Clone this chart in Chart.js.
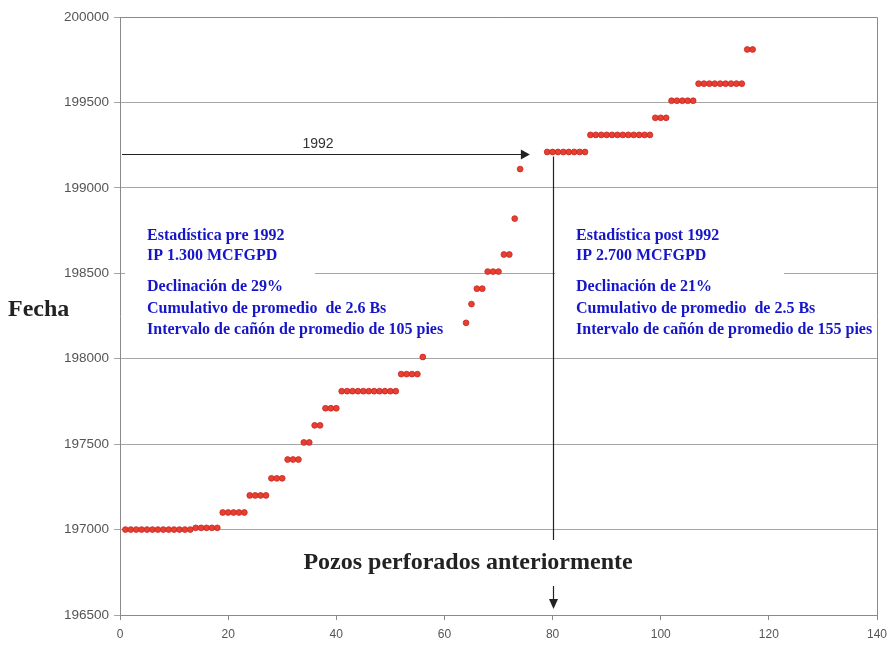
<!DOCTYPE html>
<html>
<head>
<meta charset="utf-8">
<title>Fecha vs pozos</title>
<script src="https://cdn.jsdelivr.net/npm/chart.js@4/dist/chart.umd.min.js"></script>
<style>
  html, body { margin: 0; background: #fff; }
  #wrap { width: 888px; height: 647px; }
</style>
</head>
<body>
<div id="wrap"><canvas id="chart" width="888" height="647"></canvas></div>
<script>
// pozos (numero de pozo) y fecha de perforacion
const pozos = [
  1, 2, 3, 4, 5, 6, 7, 8, 9, 10, 11, 12, 13, 14, 15, 16, 17, 18,
  19, 20, 21, 22, 23,
  24, 25, 26, 27,
  28, 29, 30,
  31, 32, 33,
  34, 35,
  36, 37,
  38, 39, 40,
  41, 42, 43, 44, 45, 46, 47, 48, 49, 50, 51,
  52, 53, 54, 55,
  56,
  64, 65, 66, 67, 68, 69, 70, 71, 72, 73, 74,
  79, 80, 81, 82, 83, 84, 85, 86,
  87, 88, 89, 90, 91, 92, 93, 94, 95, 96, 97, 98,
  99, 100, 101,
  102, 103, 104, 105, 106,
  107, 108, 109, 110, 111, 112, 113, 114, 115,
  116, 117
];
const fecha = [
  197000, 197000, 197000, 197000, 197000, 197000, 197000, 197000, 197000, 197000, 197000, 197000, 197000,
  197010, 197010, 197010, 197010, 197010,
  197100, 197100, 197100, 197100, 197100,
  197200, 197200, 197200, 197200,
  197300, 197300, 197300,
  197410, 197410, 197410,
  197510, 197510,
  197610, 197610,
  197710, 197710, 197710,
  197810, 197810, 197810, 197810, 197810, 197810, 197810, 197810, 197810, 197810, 197810,
  197910, 197910, 197910, 197910,
  198010,
  198210, 198320, 198410, 198410, 198510, 198510, 198510, 198610, 198610, 198820, 199110,
  199210, 199210, 199210, 199210, 199210, 199210, 199210, 199210,
  199310, 199310, 199310, 199310, 199310, 199310, 199310, 199310, 199310, 199310, 199310, 199310,
  199410, 199410, 199410,
  199510, 199510, 199510, 199510, 199510,
  199610, 199610, 199610, 199610, 199610, 199610, 199610, 199610, 199610,
  199810, 199810
];
const preLines = ["Estadística pre 1992", "IP 1.300 MCFGPD", "Declinación de 29%",
  "Cumulativo de promedio  de 2.6 Bs", "Intervalo de cañón de promedio de 105 pies"];
const postLines = ["Estadística post 1992", "IP 2.700 MCFGPD", "Declinación de 21%",
  "Cumulativo de promedio  de 2.5 Bs", "Intervalo de cañón de promedio de 155 pies"];
const corte = { pozo: 80, fecha: 199200, etiqueta: "1992" };

const SERIF = "'Liberation Serif', 'DejaVu Serif', serif";
const SANS = "'Liberation Sans', Arial, sans-serif";
const BLUE = "#1616c8";

function arrowHead(ctx, x, y, dir) {
  // dir: "right" | "down"
  ctx.beginPath();
  if (dir === "right") { ctx.moveTo(x, y); ctx.lineTo(x - 9, y - 5); ctx.lineTo(x - 9, y + 5); }
  else { ctx.moveTo(x, y); ctx.lineTo(x - 4.5, y - 10); ctx.lineTo(x + 4.5, y - 10); }
  ctx.closePath();
  ctx.fill();
}

const overlay = {
  id: "overlay",
  beforeDatasetsDraw(chart) {
    const { ctx, chartArea: a, scales: { x, y } } = chart;
    ctx.save();
    // white boxes behind the statistics
    ctx.fillStyle = "#fff";
    ctx.fillRect(125, 220, 190, 54);
    ctx.fillRect(125, 274, 342, 76);
    ctx.fillRect(555, 220, 229, 54);
    ctx.fillRect(555, 274, 318, 76);

    // plot frame (top + right)
    ctx.strokeStyle = "#8a8a8a"; ctx.lineWidth = 1;
    ctx.beginPath();
    ctx.moveTo(a.left, a.top + 0.5); ctx.lineTo(a.right + 0.5, a.top + 0.5); ctx.lineTo(a.right + 0.5, a.bottom);
    ctx.stroke();

    // 1992 arrow
    const yc = Math.round(y.getPixelForValue(corte.fecha)) + 0.5;
    const xc = Math.round(x.getPixelForValue(corte.pozo)) + 0.5;
    ctx.strokeStyle = "#222"; ctx.fillStyle = "#222"; ctx.lineWidth = 1.2;
    ctx.beginPath(); ctx.moveTo(a.left + 2, yc); ctx.lineTo(x.getPixelForValue(75.3), yc); ctx.stroke();
    arrowHead(ctx, x.getPixelForValue(75.8), yc, "right");
    ctx.font = "14px " + SANS; ctx.textAlign = "center"; ctx.textBaseline = "alphabetic";
    ctx.fillStyle = "#333";
    ctx.fillText(corte.etiqueta, 318, 148);

    // vertical separator at pozo 80
    ctx.fillStyle = "#222";
    ctx.beginPath(); ctx.moveTo(xc, yc + 2); ctx.lineTo(xc, 600); ctx.stroke();
    arrowHead(ctx, xc, 609, "down");

    // x title with white background
    ctx.fillStyle = "#fff";
    ctx.fillRect(296, 540, 346, 46);
    ctx.fillStyle = "#222";
    ctx.font = "bold 24px " + SERIF; ctx.textBaseline = "middle";
    ctx.fillText("Pozos perforados anteriormente", 468, 563);
    ctx.restore();
  },
  afterDatasetsDraw(chart) {
    const { ctx } = chart;
    ctx.save();
    ctx.font = "bold 16px " + SERIF; ctx.fillStyle = BLUE;
    ctx.textAlign = "left"; ctx.textBaseline = "middle";
    const ys = [236, 256, 287, 309, 330];
    preLines.forEach((t, i) => ctx.fillText(t, 147, ys[i]));
    postLines.forEach((t, i) => ctx.fillText(t, 576, ys[i]));
    ctx.fillStyle = "#222"; ctx.font = "bold 24px " + SERIF;
    ctx.fillText("Fecha", 8, 310);
    ctx.restore();
  }
};

new Chart(document.getElementById("chart"), {
  type: "scatter",
  data: {
    datasets: [{
      data: pozos.map((p, i) => ({ x: p, y: fecha[i] })),
      backgroundColor: "#e8402c", borderColor: "#c8232a", borderWidth: 0.8,
      pointRadius: 2.9, pointHoverRadius: 2.9
    }]
  },
  options: {
    responsive: false, animation: false,
    layout: { padding: { top: 17, right: 0, left: 0, bottom: 0 } },
    plugins: { legend: { display: false }, tooltip: { enabled: false } },
    scales: {
      x: {
        type: "linear", min: 0, max: 140,
        afterFit: (s) => { s.height = 32; s.paddingRight = 11; },
        grid: { display: true, drawOnChartArea: false, tickLength: 5, color: "#8a8a8a" },
        border: { color: "#8a8a8a" },
        ticks: { stepSize: 20, padding: 7, color: "#555", font: { family: SANS, size: 12 } }
      },
      y: {
        type: "linear", min: 196500, max: 200000,
        afterFit: (s) => { s.width = 120; },
        grid: { color: "#a6a6a6", tickLength: 6 },
        border: { color: "#8a8a8a" },
        ticks: { stepSize: 500, padding: 5, color: "#555", font: { family: SANS, size: 13.5 },
          callback: (v) => String(v) }
      }
    }
  },
  plugins: [overlay]
});
</script>
</body>
</html>
